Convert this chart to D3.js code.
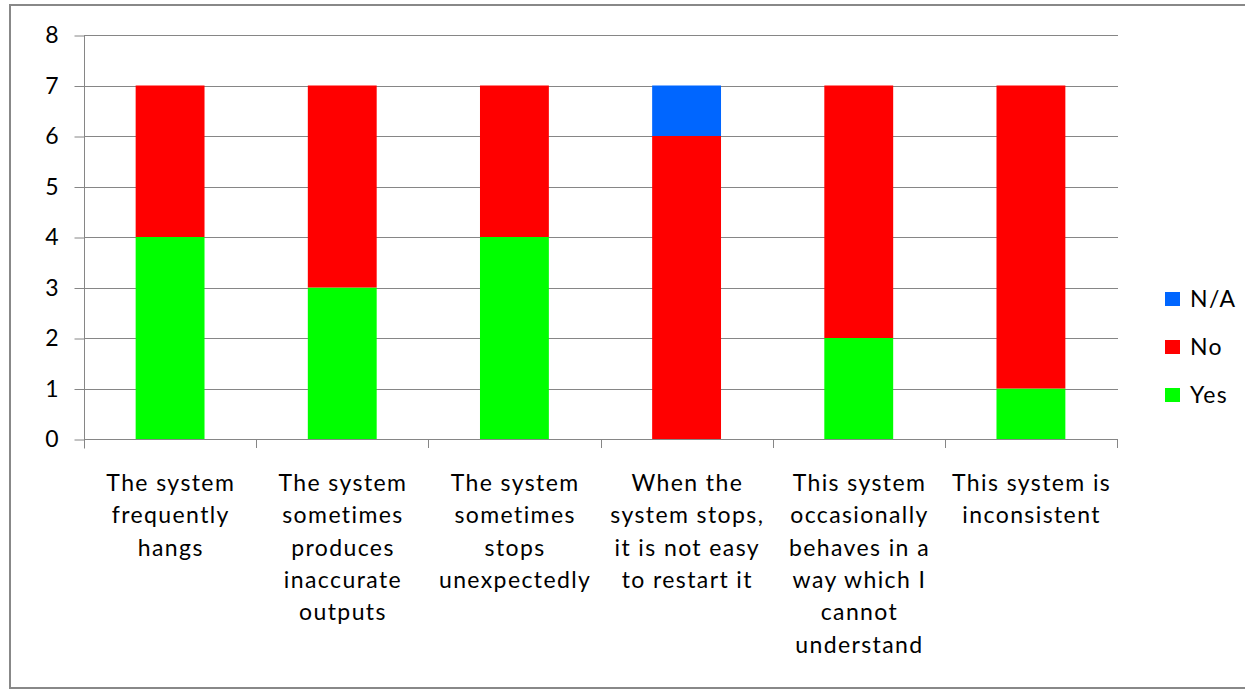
<!DOCTYPE html>
<html>
<head>
<meta charset="utf-8">
<script src="https://cdn.jsdelivr.net/npm/d3@7"></script>
<style>
  html, body { margin: 0; padding: 0; background: #fff; }
  svg { display: block; }
  text { font-family: Lato, "Noto Sans", sans-serif; fill: #000; }
</style>
</head>
<body>
<svg id="chart" width="1245" height="691"></svg>
<script>
// Survey responses per statement
const categories = [
  ["The system", "frequently", "hangs"],
  ["The system", "sometimes", "produces", "inaccurate", "outputs"],
  ["The system", "sometimes", "stops", "unexpectedly"],
  ["When the", "system stops,", "it is not easy", "to restart it"],
  ["This system", "occasionally", "behaves in a", "way which I", "cannot", "understand"],
  ["This system is", "inconsistent"]
];
const yesValues = [4, 3, 4, 0, 2, 1];
const noValues  = [3, 4, 3, 6, 5, 6];
const naValues  = [0, 0, 0, 1, 0, 0];
const seriesNames = ["Yes", "No", "N/A"];
const seriesColors = ["#00ff00", "#ff0000", "#0066ff"];
const yTicks = [0, 1, 2, 3, 4, 5, 6, 7, 8];

const svg = d3.select("#chart");
const W = 1245, H = 691;
const plot = { left: 84, right: 1117, top: 35, bottom: 439 };
const fontSize = 23;
const spacing = 1.4;

// outer frame
svg.append("rect")
  .attr("x", 10).attr("y", 5)
  .attr("width", W + 20).attr("height", 683)
  .attr("fill", "#fff").attr("stroke", "#888").attr("stroke-width", 2);

const idx = categories.map((_, i) => i);
const x = d3.scaleBand().domain(idx).range([plot.left, plot.right]).paddingInner(0).paddingOuter(0);
const y = d3.scaleLinear().domain([0, 8]).range([plot.bottom, plot.top]);

// gridlines
svg.append("g").selectAll("line").data(yTicks.filter(d => d > 0)).join("line")
  .attr("x1", plot.left).attr("x2", plot.right + 1)
  .attr("y1", d => Math.round(y(d)) + 0.5).attr("y2", d => Math.round(y(d)) + 0.5)
  .attr("stroke", "#868686").attr("stroke-width", 1);

// stacked bars
const table = idx.map(i => ({ i, Yes: yesValues[i], No: noValues[i], "N/A": naValues[i] }));
const stacked = d3.stack().keys(seriesNames)(table);
const barW = x.bandwidth() * 0.4;
svg.append("g").selectAll("g").data(stacked).join("g")
  .attr("fill", (d, k) => seriesColors[k])
  .selectAll("rect").data(d => d).join("rect")
  .attr("x", d => x(d.data.i) + (x.bandwidth() - barW) / 2)
  .attr("width", barW)
  .attr("y", d => y(d[1]))
  .attr("height", d => y(d[0]) - y(d[1]));

// y axis
const yAxis = d3.axisLeft(y).tickValues(yTicks).tickSize(10).tickPadding(16);
const gy = svg.append("g").attr("transform", `translate(${plot.left + 0.5},0.5)`).call(yAxis);
gy.select(".domain").attr("stroke", "#868686").attr("d", `M0,${plot.top}V${plot.bottom + 9}`);
gy.selectAll(".tick line").attr("stroke", "#868686");
gy.selectAll(".tick text").attr("font-size", fontSize).attr("fill", "#000")
  .style("font-family", "Lato, 'Noto Sans', sans-serif");

// x axis baseline and category separators
const gx = svg.append("g");
gx.append("line")
  .attr("x1", plot.left).attr("x2", plot.right + 1)
  .attr("y1", plot.bottom + 0.5).attr("y2", plot.bottom + 0.5)
  .attr("stroke", "#868686");
gx.selectAll("line.sep").data(idx.map(i => x(i) + x.bandwidth())).join("line")
  .attr("class", "sep")
  .attr("x1", d => Math.round(d) + 0.5).attr("x2", d => Math.round(d) + 0.5)
  .attr("y1", plot.bottom).attr("y2", plot.bottom + 9)
  .attr("stroke", "#868686");

// category labels
const lineH = 32.3;
svg.append("g").selectAll("text").data(categories).join("text")
  .attr("text-anchor", "middle")
  .attr("font-size", fontSize)
  .attr("letter-spacing", spacing)
  .attr("transform", (d, i) => `translate(${x(i) + x.bandwidth() / 2 + spacing / 2},491)`)
  .selectAll("tspan").data(d => d).join("tspan")
  .attr("x", 0).attr("y", (d, j) => j * lineH)
  .text(d => d);

// legend
const legendItems = [
  { name: "N/A", color: seriesColors[2], y: 299 },
  { name: "No", color: seriesColors[1], y: 347 },
  { name: "Yes", color: seriesColors[0], y: 395 }
];
const lg = svg.append("g").selectAll("g").data(legendItems).join("g")
  .attr("transform", d => `translate(1165,${d.y})`);
lg.append("rect").attr("x", 0).attr("y", -7).attr("width", 15).attr("height", 14).attr("fill", d => d.color);
lg.append("text").attr("x", 25).attr("y", 0).attr("dy", "0.35em")
  .attr("font-size", fontSize).attr("letter-spacing", spacing).text(d => d.name);
</script>
</body>
</html>
